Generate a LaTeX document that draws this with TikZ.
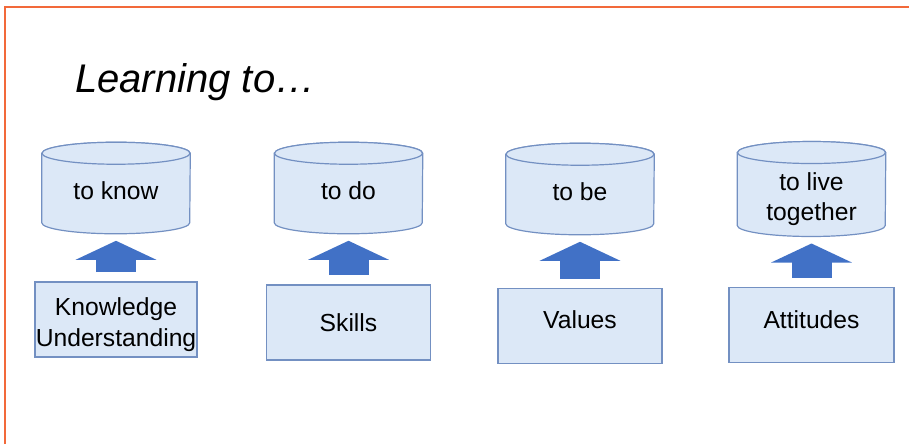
\documentclass[tikz,border=0pt]{standalone}
\usepackage{fontspec}
\setmainfont{Liberation Sans}
\usetikzlibrary{arrows.meta,backgrounds}
\definecolor{frameorange}{HTML}{F2693A}
\definecolor{boxfill}{HTML}{DCE8F7}
\definecolor{boxline}{HTML}{7390C2}
\definecolor{arrowblue}{HTML}{4171C6}
\tikzset{
  goal/.style={rectangle, align=center, minimum width=111pt, minimum height=51.75pt,
    font=\fontsize{18.5}{22.5}\selectfont, inner sep=0pt},
  goalline/.style={draw=boxline, fill=boxfill, line width=0.9pt},
  pillar/.style={rectangle, draw=boxline, fill=boxfill, line width=0.9pt, align=center,
    minimum height=56.25pt, font=\fontsize{18.5}{23}\selectfont, inner sep=0pt},
  upward/.style={arrowblue, line width=30pt,
    -{Triangle[length=14.25pt, width=60pt]}, shorten <=7pt, shorten >=13.5pt}
}
\begin{document}
\begin{tikzpicture}[x=0.75pt, y=-0.75pt]
  \useasboundingbox (0,0) rectangle (909,444);
  %% frame
  \draw[frameorange, line width=2pt] (5,444) -- (5,7) -- (909,7);
  %% title
  \node[anchor=base west, inner sep=0pt, font=\fontsize{30}{36}\selectfont\itshape] (title) at (75,92) {Learning to…};
  %% goals (cylinders)
  \node[goal] (know) at (116,188) {\rule{0pt}{18pt}to know};
  \node[goal] (do) at (348.5,188) {\rule{0pt}{18pt}to do};
  \node[goal] (be) at (580,189) {\rule{0pt}{18pt}to be};
  \node[goal] (live) at (811.5,189) {\rule{0pt}{28pt}to live\\together};
  \begin{scope}[on background layer]
    \foreach \g in {know,do,be,live} {
      \draw[goalline] (\g.north west) -- (\g.south west)
        arc[start angle=180, end angle=360, x radius=55.5pt, y radius=8.25pt]
        -- (\g.north east)
        arc[start angle=0, end angle=180, x radius=55.5pt, y radius=8.25pt] -- cycle;
      \draw[goalline] (\g.north) ellipse[x radius=55.5pt, y radius=8.25pt];
    }
  \end{scope}
  %% pillars
  \node[pillar, minimum width=121.5pt] (knowledge) at (116,319.5) {\rule{0pt}{21pt}Knowledge\\Understanding};
  \node[pillar, minimum width=123pt] (skills) at (348.5,322.5) {Skills};
  \node[pillar, minimum width=123pt] (values) at (580,326) {\rule[-9pt]{0pt}{9pt}Values};
  \node[pillar, minimum width=123.75pt] (attitudes) at (811.5,325) {\rule[-7.5pt]{0pt}{7.5pt}Attitudes};
  %% arrows
  \draw[upward] (knowledge.north) -- (know.south);
  \draw[upward] (skills.north) -- (do.south);
  \draw[upward] (values.north) -- (be.south);
  \draw[upward] (attitudes.north) -- (live.south);
\end{tikzpicture}
\end{document}
